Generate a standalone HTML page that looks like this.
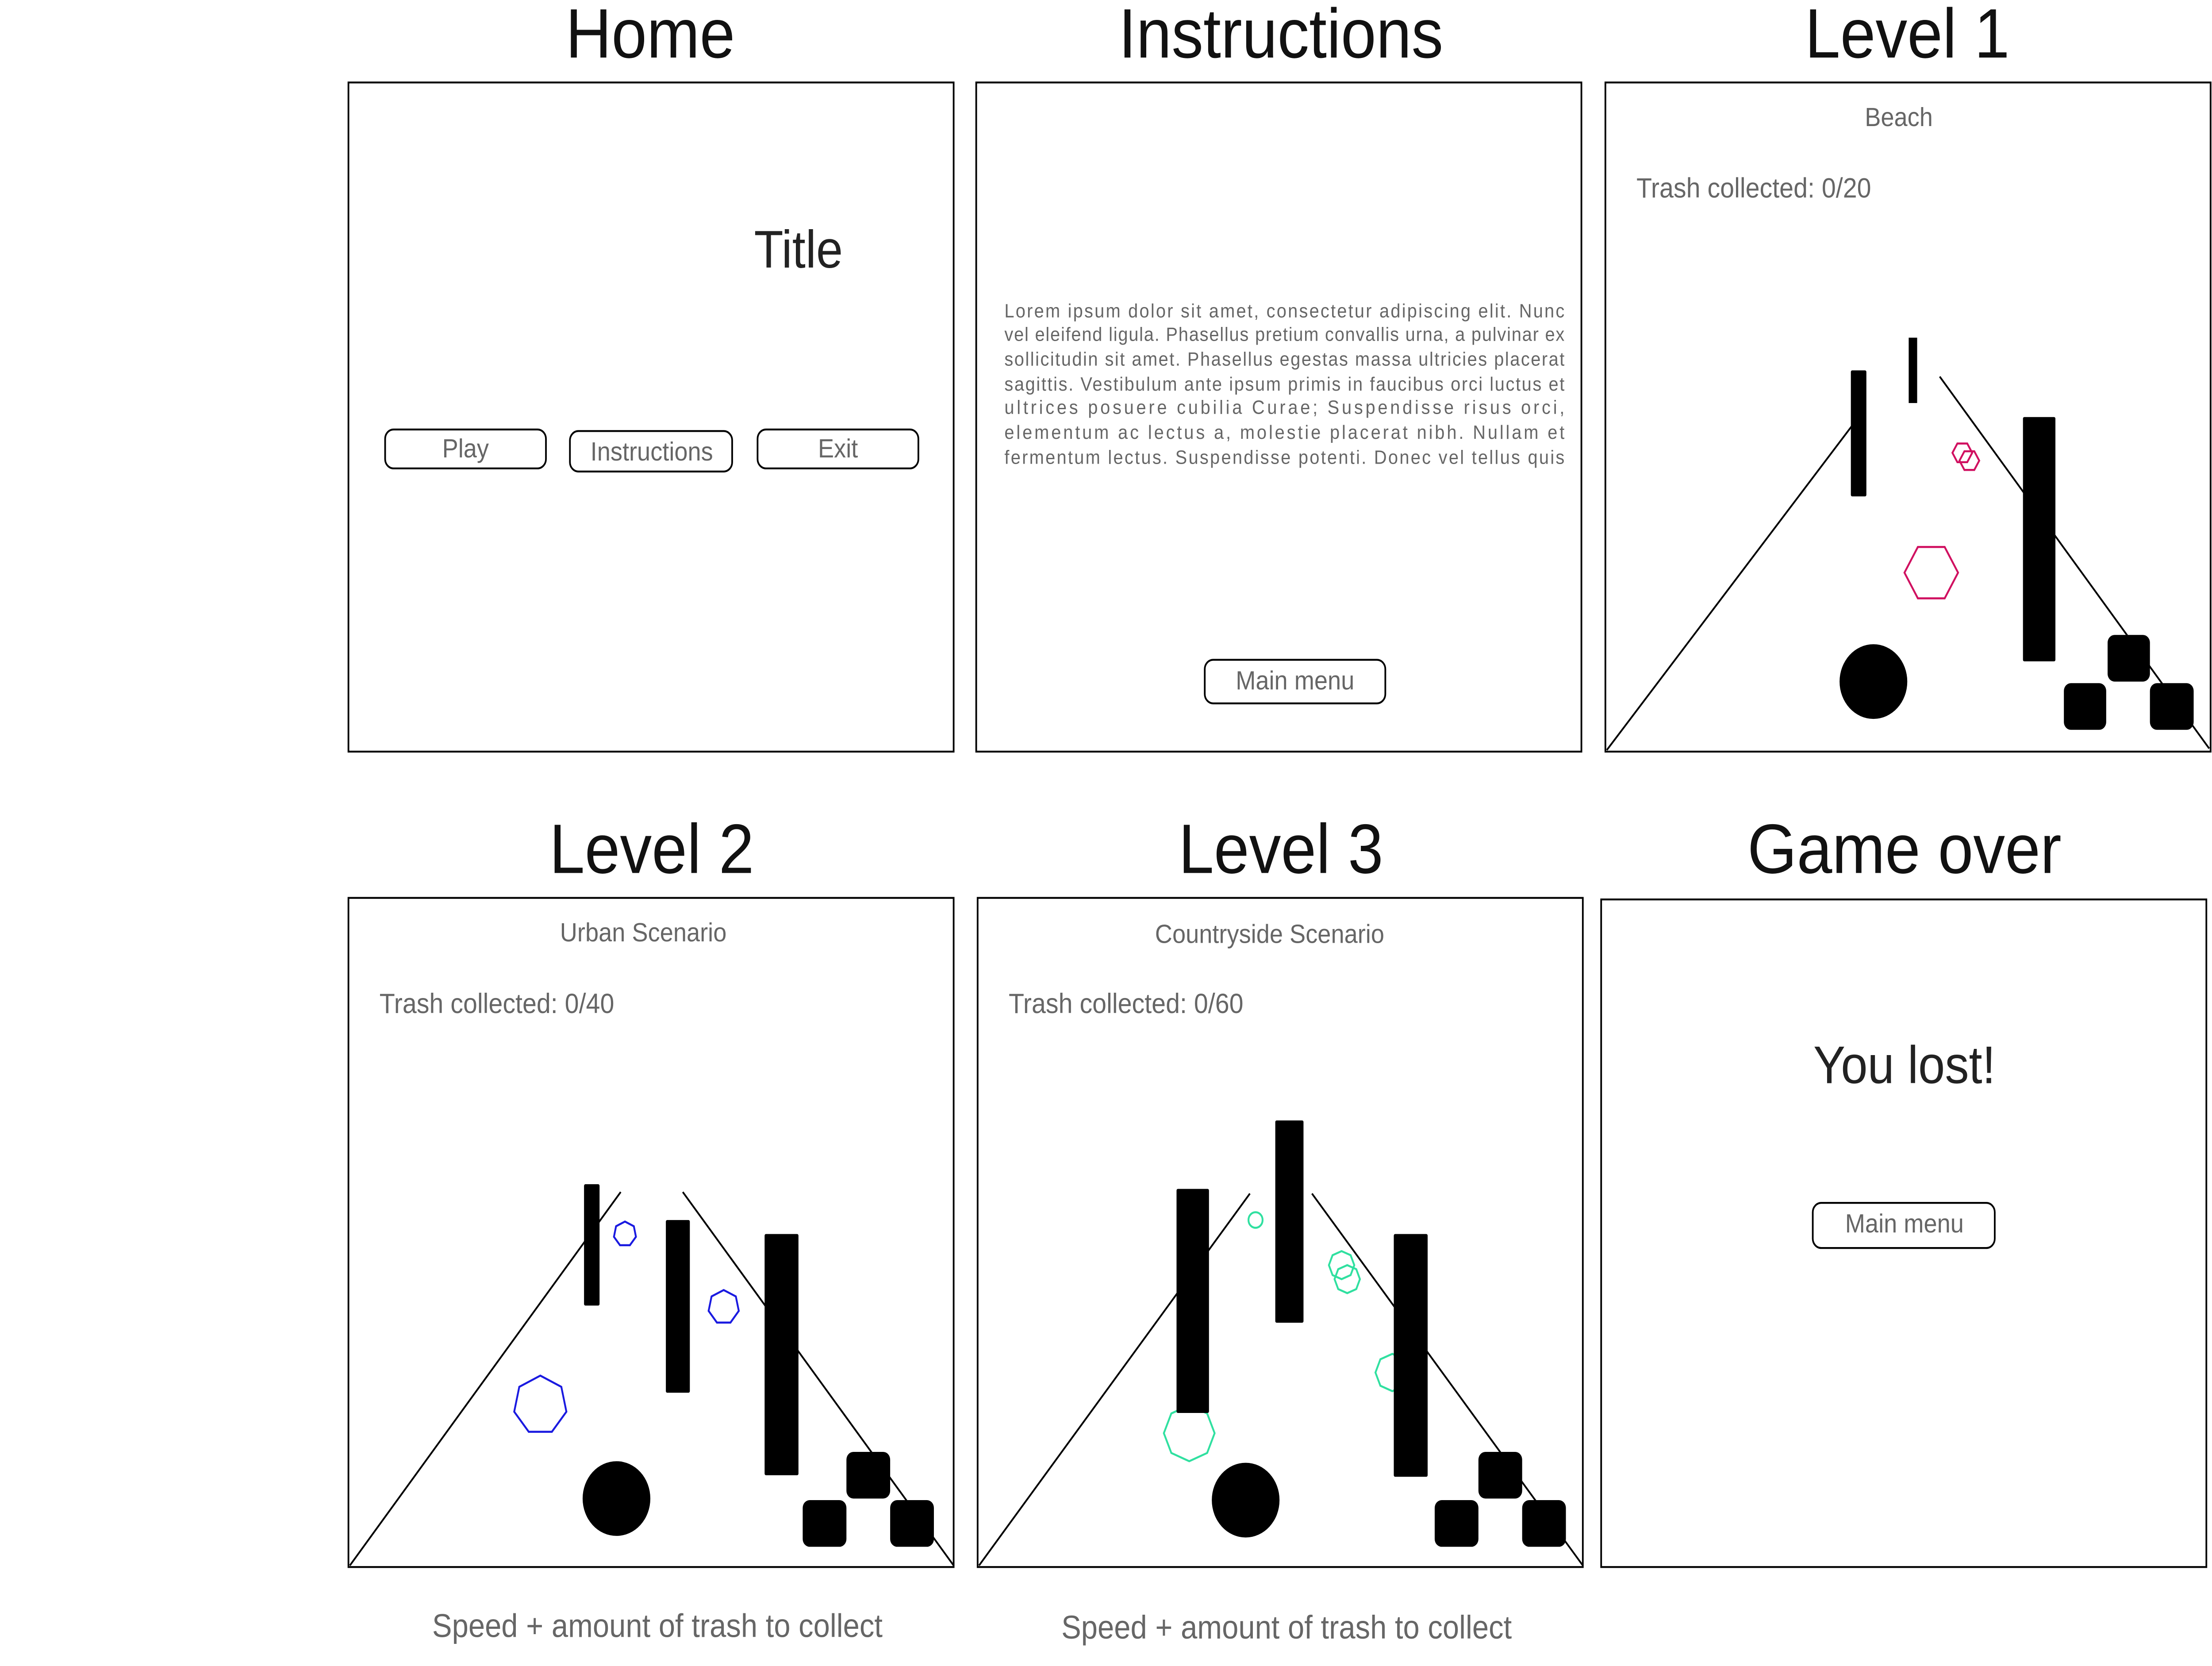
<!DOCTYPE html>
<html><head><meta charset="utf-8"><style>
html,body{margin:0;padding:0;background:#fff;overflow:hidden;width:100vw;height:100vh;}
svg{display:block;width:100vw;height:100vh;}
text{font-family:"Liberation Sans",sans-serif;}
.t{font-size:45px;fill:#111;text-anchor:middle;}
.g{fill:#666;}
.p{fill:none;stroke:#000;stroke-width:1.2;}
</style></head><body>
<svg viewBox="0 0 1568 1070.6" preserveAspectRatio="none" xmlns="http://www.w3.org/2000/svg">
<rect width="1568" height="1071" fill="#fff"/>
<g>
<text class="t" x="461" y="37">Home</text>
<rect class="p" x="247" y="53" width="429" height="430"/>
<text x="566" y="172" font-size="34" text-anchor="middle" fill="#222">Title</text>
<g><rect class="p" x="273" y="276" width="114" height="25" rx="6"/><text x="330" y="294" font-size="17" class="g" text-anchor="middle">Play</text></g>
<g><rect class="p" x="404" y="277" width="115" height="26" rx="6"/><text x="462" y="296" font-size="17" class="g" text-anchor="middle">Instructions</text></g>
<g><rect class="p" x="537" y="276" width="114" height="25" rx="6"/><text x="594" y="294" font-size="17" class="g" text-anchor="middle">Exit</text></g>
</g>
<g>
<text class="t" x="908" y="37">Instructions</text>
<rect class="p" x="692" y="53" width="429" height="430"/>
<g font-size="12.5" class="g">
<text x="712" y="204" textLength="397" lengthAdjust="spacing">Lorem ipsum dolor sit amet, consectetur adipiscing elit. Nunc</text>
<text x="712" y="219" textLength="397" lengthAdjust="spacing">vel eleifend ligula. Phasellus pretium convallis urna, a pulvinar ex</text>
<text x="712" y="235" textLength="397" lengthAdjust="spacing">sollicitudin sit amet. Phasellus egestas massa ultricies placerat</text>
<text x="712" y="251" textLength="397" lengthAdjust="spacing">sagittis. Vestibulum ante ipsum primis in faucibus orci luctus et</text>
<text x="712" y="266" textLength="397" lengthAdjust="spacing">ultrices posuere cubilia Curae; Suspendisse risus orci,</text>
<text x="712" y="282" textLength="397" lengthAdjust="spacing">elementum ac lectus a, molestie placerat nibh. Nullam et</text>
<text x="712" y="298" textLength="397" lengthAdjust="spacing">fermentum lectus. Suspendisse potenti. Donec vel tellus quis</text>
</g>
<g><rect class="p" x="854" y="424" width="128" height="28" rx="6"/><text x="918" y="443" font-size="17" class="g" text-anchor="middle">Main menu</text></g>
</g>
<g>
<text class="t" x="1352" y="37">Level 1</text>
<rect class="p" x="1138" y="53" width="429" height="430"/>
<text x="1346" y="81" font-size="17" class="g" text-anchor="middle">Beach</text>
<text x="1160" y="127" font-size="18" class="g">Trash collected: 0/20</text>
<line x1="1139" y1="482" x2="1320" y2="265" stroke="#000" stroke-width="1.2"/>
<line x1="1375" y1="242" x2="1566" y2="481" stroke="#000" stroke-width="1.2"/>
<rect x="1312" y="238" width="11" height="81" rx="1"/>
<rect x="1353" y="217" width="6" height="42"/>
<rect x="1434" y="268" width="23" height="157" rx="1"/>
<g fill="none" stroke="#d01060" stroke-width="1.3">
<polygon points="1388,368 1378.5,384.5 1359.5,384.5 1350,368 1359.5,351.5 1378.5,351.5"/>
<polygon points="1398,291 1394.5,297 1387.5,297 1384,291 1387.5,285 1394.5,285"/>
<polygon points="1403,296 1399.5,302 1392.5,302 1389,296 1392.5,290 1399.5,290"/>
</g>
<circle cx="1328" cy="438" r="24"/>
<rect x="1494" y="408" width="30" height="30" rx="5"/>
<rect x="1463" y="439" width="30" height="30" rx="5"/>
<rect x="1524" y="439" width="31" height="30" rx="5"/>
</g>
<g>
<text class="t" x="462" y="561">Level 2</text>
<rect class="p" x="247" y="577" width="429" height="430"/>
<text x="456" y="605" font-size="17" class="g" text-anchor="middle">Urban Scenario</text>
<text x="269" y="651" font-size="18" class="g">Trash collected: 0/40</text>
<line x1="248" y1="1006" x2="440" y2="766" stroke="#000" stroke-width="1.2"/>
<line x1="484" y1="766" x2="676" y2="1006" stroke="#000" stroke-width="1.2"/>
<rect x="414" y="761" width="11" height="78" rx="1"/>
<rect x="472" y="784" width="17" height="111" rx="1"/>
<rect x="542" y="793" width="24" height="155" rx="1"/>
<g fill="none" stroke="#1a1ae0" stroke-width="1.3">
<polygon points="443,785 449.3,788 450.8,794.8 446.5,800.2 439.5,800.2 435.2,794.8 436.7,788"/>
<polygon points="513,829 521.6,833.1 523.7,842.4 517.8,849.9 508.2,849.9 502.3,842.4 504.4,833.1"/>
<polygon points="383,884 397.9,891.2 401.5,907.2 391.2,920.1 374.8,920.1 364.5,907.2 368.1,891.2"/>
</g>
<circle cx="437" cy="963" r="24"/>
<rect x="600" y="933" width="31" height="30" rx="5"/>
<rect x="569" y="964" width="31" height="30" rx="5"/>
<rect x="631" y="964" width="31" height="30" rx="5"/>
</g>
<g>
<text class="t" x="908" y="561">Level 3</text>
<rect class="p" x="693" y="577" width="429" height="430"/>
<text x="900" y="606" font-size="17" class="g" text-anchor="middle">Countryside Scenario</text>
<text x="715" y="651" font-size="18" class="g">Trash collected: 0/60</text>
<line x1="694" y1="1006" x2="886" y2="767" stroke="#000" stroke-width="1.2"/>
<line x1="930" y1="767" x2="1122" y2="1006" stroke="#000" stroke-width="1.2"/>
<g fill="none" stroke="#30e0a0" stroke-width="1.3">
<circle cx="890" cy="784" r="5"/>
<polygon points="951,804 957.4,806.6 960,813 957.4,819.4 951,822 944.6,819.4 942,813 944.6,806.6"/>
<polygon points="955,813 961.4,815.6 964,822 961.4,828.4 955,831 948.6,828.4 946,822 948.6,815.6"/>
<polygon points="987,870 995.5,873.5 999,882 995.5,890.5 987,894 978.5,890.5 975,882 978.5,873.5"/>
<polygon points="843,903 855.7,908.3 861,921 855.7,933.7 843,939 830.3,933.7 825,921 830.3,908.3"/>
</g>
<rect x="834" y="764" width="23" height="144" rx="1"/>
<rect x="904" y="720" width="20" height="130" rx="1"/>
<rect x="988" y="793" width="24" height="156" rx="1"/>
<circle cx="883" cy="964" r="24"/>
<rect x="1048" y="933" width="31" height="30" rx="5"/>
<rect x="1017" y="964" width="31" height="30" rx="5"/>
<rect x="1079" y="964" width="31" height="30" rx="5"/>
</g>
<g>
<text class="t" x="1350" y="561">Game over</text>
<rect class="p" x="1135" y="578" width="429" height="429"/>
<text x="1350" y="696" font-size="34" fill="#222" text-anchor="middle">You lost!</text>
<g><rect class="p" x="1285" y="773" width="129" height="29" rx="6"/><text x="1350" y="792" font-size="17" class="g" text-anchor="middle">Main menu</text></g>
</g>
<text x="466" y="1052" font-size="21" class="g" text-anchor="middle">Speed + amount of trash to collect</text>
<text x="912" y="1053" font-size="21" class="g" text-anchor="middle">Speed + amount of trash to collect</text>
</svg>
</body></html>
